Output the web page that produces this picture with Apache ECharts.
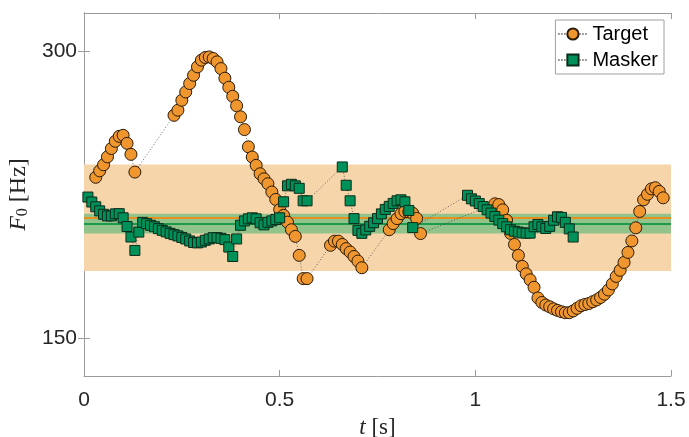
<!DOCTYPE html>
<html>
<head>
<meta charset="utf-8">
<script src="https://cdn.jsdelivr.net/npm/echarts@6/dist/echarts.min.js"></script>
<style>
  html, body { margin: 0; padding: 0; background: #ffffff; }
  #chart { width: 689px; height: 437px; }
</style>
</head>
<body>
<div id="chart"></div>
<script>
// Time stamps (s) and F0 (Hz) of the target voice
const targetTime = [
  0.03, 0.04, 0.05, 0.06, 0.07, 0.08, 0.09, 0.10, 0.11, 0.12, 0.13,
  0.23, 0.24, 0.25, 0.26, 0.27, 0.28, 0.29, 0.30, 0.31, 0.32, 0.33, 0.34, 0.35, 0.36, 0.37, 0.38, 0.39, 0.40,
  0.41, 0.42, 0.43, 0.44, 0.45, 0.46, 0.47, 0.48, 0.49, 0.50, 0.51, 0.52, 0.53, 0.54, 0.55, 0.56, 0.57,
  0.63, 0.64, 0.65, 0.66, 0.67, 0.68, 0.69, 0.70, 0.71,
  0.78, 0.79, 0.80, 0.81, 0.82, 0.83, 0.84, 0.85, 0.86,
  1.05, 1.06, 1.07, 1.08, 1.09, 1.10, 1.11, 1.12, 1.13, 1.14, 1.15, 1.16, 1.17, 1.18, 1.19, 1.20,
  1.21, 1.22, 1.23, 1.24, 1.25, 1.26, 1.27, 1.28, 1.29, 1.30, 1.31, 1.32, 1.33, 1.34, 1.35, 1.36,
  1.37, 1.38, 1.39, 1.40, 1.41, 1.42, 1.43, 1.44, 1.45, 1.46, 1.47, 1.48
];
const targetF0 = [
  221.3, 224.8, 228.1, 232.5, 237.2, 241.4, 244.3, 244.9, 240.2, 233.9, 224.1,
  257.0, 260.2, 266.5, 271.9, 277.5, 283.1, 288.9, 293.6, 295.5, 295.9, 294.8, 292.4, 287.7, 281.1, 275.0, 269.1, 263.0, 256.1,
  248.3, 238.2, 232.4, 227.8, 223.2, 220.5, 217.9, 213.6, 209.8, 204.7, 201.9, 198.6, 195.0, 191.9, 183.3, 173.3, 173.3,
  187.8, 189.7, 189.7, 188.2, 186.3, 184.8, 182.8, 180.8, 177.9,
  195.0, 197.9, 200.3, 202.7, 203.8, 203.6, 202.9, 200.4, 193.2,
  207.6, 207.2, 204.6, 199.5, 193.3, 188.2, 183.3, 178.5, 175.3, 172.8, 169.7, 165.4, 163.6, 162.6, 161.9, 161.1,
  160.5, 160.0, 159.6, 159.6, 160.3, 161.3, 162.3, 162.8, 163.2, 163.9, 164.6, 165.6, 166.9, 168.6, 171.1, 174.2,
  176.8, 180.2, 184.6, 189.8, 195.9, 203.8, 209.6, 212.4, 215.2, 215.8, 213.9, 210.6
];

// Time stamps (s) and F0 (Hz) of the masker voice
const maskerTime = [
  0.01, 0.02, 0.03, 0.04, 0.05, 0.06, 0.07, 0.08, 0.09, 0.10,
  0.11, 0.12, 0.13, 0.14, 0.15, 0.16, 0.17, 0.18, 0.19, 0.20,
  0.21, 0.22, 0.23, 0.24, 0.25, 0.26, 0.27, 0.28, 0.29, 0.30,
  0.31, 0.32, 0.33, 0.34, 0.35, 0.36, 0.37, 0.38, 0.39, 0.40,
  0.41, 0.42, 0.43, 0.44, 0.45, 0.46, 0.47, 0.48, 0.49, 0.50,
  0.51, 0.52, 0.53, 0.54, 0.55, 0.56, 0.57,
  0.66, 0.67, 0.68, 0.69, 0.70, 0.71, 0.72, 0.73, 0.74, 0.75,
  0.76, 0.77, 0.78, 0.79, 0.80, 0.81, 0.82, 0.83, 0.84,
  0.98, 0.99, 1.00, 1.01, 1.02, 1.03, 1.04, 1.05, 1.06, 1.07,
  1.08, 1.09, 1.10, 1.11, 1.12, 1.13, 1.14, 1.15, 1.16, 1.17,
  1.18, 1.19, 1.20, 1.21, 1.22, 1.23, 1.24, 1.25
];
const maskerF0 = [
  211.0, 208.5, 206.1, 204.1, 202.4, 201.6, 201.6, 202.6, 202.7, 200.7,
  196.5, 191.6, 185.5, 193.9, 198.5, 197.9, 197.1, 196.4, 195.5, 194.7,
  194.0, 193.3, 192.7, 192.1, 191.4, 190.7, 189.8, 189.1, 188.9, 189.3,
  190.1, 190.7, 191.3, 191.3, 191.0, 190.4, 187.0, 182.8, 190.7, 197.1,
  199.2, 200.2, 200.7, 200.2, 198.3, 197.3, 198.5, 199.2, 199.9, 200.7,
  208.6, 216.8, 217.6, 216.8, 215.5, 209.1, 209.1,
  226.9, 217.1, 209.1, 200.3, 194.7, 193.3, 194.9, 196.6, 198.3, 200.3,
  202.6, 204.8, 206.3, 207.8, 209.1, 209.6, 208.6, 204.3, 196.0,
  211.9, 210.1, 209.0, 207.7, 206.2, 204.6, 203.0, 201.3, 199.6, 197.9,
  196.4, 195.0, 194.3, 193.9, 193.5, 193.4, 193.4, 196.4, 197.5, 196.4,
  195.6, 196.6, 199.5, 201.2, 200.9, 198.5, 195.4, 191.6
];

// Mean F0 and spread band of each voice (Hz)
const targetMean = 200.6;
const targetBand = [176.5, 228.3];
const maskerMean = 197.9;
const maskerBand = [193.2, 202.7];

// Axis ticks
const xTicks = [0, 0.5, 1, 1.5];
const yTicks = [150, 300];

const pairs = (xs, ys) => xs.map((x, i) => [x, ys[i]]);

const ORANGE = '#F0962E';
const GREEN = '#00915A';
const AXIS_GRAY = '#9a9a9a';
const SANS = '"Liberation Sans", Arial, Helvetica, sans-serif';
const SERIF = '"Liberation Serif", "DejaVu Serif", serif';

const chart = echarts.init(document.getElementById('chart'), null, { renderer: 'canvas' });

const xBase = {
  type: 'value', min: xTicks[0], max: xTicks[xTicks.length - 1], interval: 0.5,
  splitLine: { show: false },
  axisLine: { show: true, lineStyle: { color: AXIS_GRAY, width: 1 } },
  axisTick: { show: true, inside: true, length: 6, lineStyle: { color: AXIS_GRAY } }
};
const yBase = {
  type: 'log', min: 137, max: 329,
  splitLine: { show: false },
  axisLine: { show: true, lineStyle: { color: AXIS_GRAY, width: 1 } },
  axisTick: { show: true, inside: true, length: 6, customValues: yTicks, lineStyle: { color: AXIS_GRAY } }
};

const option = {
  animation: false,
  backgroundColor: '#ffffff',
  grid: { left: 84, right: 18, top: 13, bottom: 61, containLabel: false, outerBoundsMode: 'none' },
  xAxis: [
    Object.assign({}, xBase, {
      position: 'bottom',
      axisLabel: { fontSize: 21, color: '#262626', fontFamily: SANS, margin: 14 },
      name: '{i|t} [s]',
      nameLocation: 'middle',
      nameGap: 40,
      nameTextStyle: {
        fontSize: 23, color: '#262626', fontFamily: SERIF,
        rich: { i: { fontSize: 23, fontStyle: 'italic', fontFamily: SERIF, color: '#262626' } }
      }
    }),
    Object.assign({}, xBase, { position: 'top', axisLabel: { show: false } })
  ],
  yAxis: [
    Object.assign({}, yBase, {
      position: 'left',
      axisLabel: { fontSize: 21, color: '#262626', fontFamily: SANS, margin: 7, customValues: yTicks },
      name: '{i|F}{s|0} [Hz]',
      nameLocation: 'middle',
      nameGap: 46,
      nameRotate: 90,
      nameTextStyle: {
        fontSize: 24, color: '#262626', fontFamily: SERIF,
        rich: {
          i: { fontSize: 24, fontStyle: 'italic', fontFamily: SERIF, color: '#262626' },
          s: { fontSize: 16, fontFamily: SERIF, color: '#262626', verticalAlign: 'bottom', padding: [9, 0, 0, 0] }
        }
      }
    }),
    Object.assign({}, yBase, { position: 'right', axisLabel: { show: false } })
  ],
  legend: {
    data: ['Target', 'Masker'],
    orient: 'vertical',
    right: 25, top: 20,
    backgroundColor: '#ffffff',
    borderColor: '#a0a0a0', borderWidth: 1, borderRadius: 0,
    padding: [4, 6, 4, 2],
    itemGap: 6,
    itemWidth: 29, itemHeight: 14,
    textStyle: { fontSize: 20, color: '#000000', fontFamily: SANS }
  },
  series: [
    {
      name: 'targetSpread', type: 'line', data: [], silent: true, z: 1,
      markArea: {
        silent: true, z: 1,
        itemStyle: { color: '#F6D5AB' },
        data: [[{ yAxis: targetBand[0] }, { yAxis: targetBand[1] }]]
      }
    },
    {
      name: 'maskerSpread', type: 'line', data: [], silent: true, z: 1,
      markArea: {
        silent: true, z: 1,
        itemStyle: { color: '#92C38B' },
        data: [[{ yAxis: maskerBand[0] }, { yAxis: maskerBand[1] }]]
      }
    },
    {
      name: 'targetMean', type: 'line', data: [], silent: true, z: 2,
      markLine: {
        silent: true, z: 2, symbol: 'none', label: { show: false },
        lineStyle: { color: '#E8901F', width: 2, type: 'solid' },
        data: [{ yAxis: targetMean }]
      }
    },
    {
      name: 'maskerMean', type: 'line', data: [], silent: true, z: 2,
      markLine: {
        silent: true, z: 2, symbol: 'none', label: { show: false },
        lineStyle: { color: '#1E9A4E', width: 2, type: 'solid' },
        data: [{ yAxis: maskerMean }]
      }
    },
    {
      name: 'Target', type: 'line', z: 3,
      data: pairs(targetTime, targetF0),
      symbol: 'circle', symbolSize: 12, showAllSymbol: true,
      lineStyle: { color: '#444444', width: 0.8, type: [1, 2] },
      itemStyle: { color: ORANGE, borderColor: '#2a1a08', borderWidth: 1 }
    },
    {
      name: 'Masker', type: 'line', z: 4,
      data: pairs(maskerTime, maskerF0),
      symbol: 'rect', symbolSize: 10, showAllSymbol: true,
      lineStyle: { color: '#444444', width: 0.8, type: [1, 2] },
      itemStyle: { color: GREEN, borderColor: '#0c2a18', borderWidth: 1 }
    }
  ]
};

chart.setOption(option);
</script>
</body>
</html>
